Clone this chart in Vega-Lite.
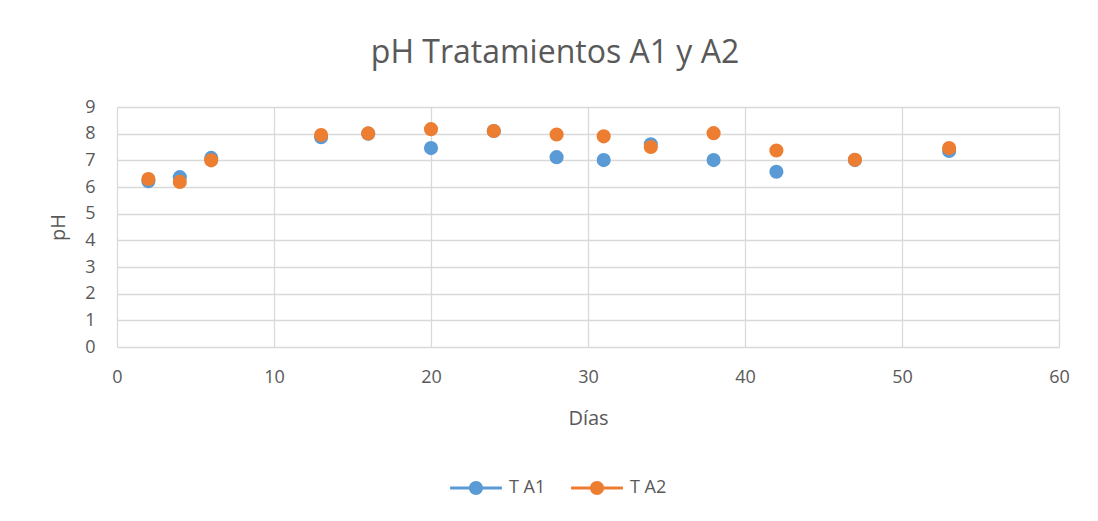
{
  "$schema": "https://vega.github.io/schema/vega-lite/v6.json",
  "autosize": "none",
  "width": 942,
  "height": 240,
  "padding": {"left": 117, "top": 107, "right": 39, "bottom": 174},
  "background": "white",
  "title": {
    "text": "pH Tratamientos A1 y A2",
    "fontSize": 32,
    "font": "Open Sans",
    "fontWeight": "normal",
    "color": "#595959",
    "anchor": "middle",
    "frame": "group",
    "dx": -33,
    "offset": 28
  },
  "config": {
    "font": "Open Sans",
    "view": {"stroke": null},
    "axis": {
      "grid": true,
      "gridColor": "#d9d9d9",
      "gridWidth": 1.3,
      "domain": false,
      "ticks": false,
      "labelFontSize": 18,
      "labelColor": "#595959",
      "titleFontSize": 20,
      "titleColor": "#595959",
      "titleFontWeight": "normal"
    }
  },
  "data": {
    "values": [
      {"dia": 2, "serie": "T A1", "ph": 6.22},
      {"dia": 4, "serie": "T A1", "ph": 6.37},
      {"dia": 6, "serie": "T A1", "ph": 7.09},
      {"dia": 13, "serie": "T A1", "ph": 7.87},
      {"dia": 16, "serie": "T A1", "ph": 8.0},
      {"dia": 20, "serie": "T A1", "ph": 7.46},
      {"dia": 24, "serie": "T A1", "ph": 8.1},
      {"dia": 28, "serie": "T A1", "ph": 7.12},
      {"dia": 31, "serie": "T A1", "ph": 7.01},
      {"dia": 34, "serie": "T A1", "ph": 7.6},
      {"dia": 38, "serie": "T A1", "ph": 7.01},
      {"dia": 42, "serie": "T A1", "ph": 6.57},
      {"dia": 47, "serie": "T A1", "ph": 7.01},
      {"dia": 53, "serie": "T A1", "ph": 7.35},
      {"dia": 2, "serie": "T A2", "ph": 6.3},
      {"dia": 4, "serie": "T A2", "ph": 6.19},
      {"dia": 6, "serie": "T A2", "ph": 7.0},
      {"dia": 13, "serie": "T A2", "ph": 7.95},
      {"dia": 16, "serie": "T A2", "ph": 8.01},
      {"dia": 20, "serie": "T A2", "ph": 8.17},
      {"dia": 24, "serie": "T A2", "ph": 8.1},
      {"dia": 28, "serie": "T A2", "ph": 7.97},
      {"dia": 31, "serie": "T A2", "ph": 7.9},
      {"dia": 34, "serie": "T A2", "ph": 7.5},
      {"dia": 38, "serie": "T A2", "ph": 8.02},
      {"dia": 42, "serie": "T A2", "ph": 7.37},
      {"dia": 47, "serie": "T A2", "ph": 7.02},
      {"dia": 53, "serie": "T A2", "ph": 7.46}
    ]
  },
  "mark": {"type": "point", "filled": true, "opacity": 1, "size": 200},
  "encoding": {
    "x": {
      "field": "dia",
      "type": "quantitative",
      "scale": {"domain": [0, 60], "nice": false},
      "axis": {"values": [0, 10, 20, 30, 40, 50, 60], "title": "Días", "labelFlush": false, "labelPadding": 21, "titlePadding": 22}
    },
    "y": {
      "field": "ph",
      "type": "quantitative",
      "scale": {"domain": [0, 9], "nice": false},
      "axis": {"values": [0, 1, 2, 3, 4, 5, 6, 7, 8, 9], "title": "pH", "labelPadding": 22, "titlePadding": 16}
    },
    "color": {
      "field": "serie",
      "type": "nominal",
      "scale": {"domain": ["T A1", "T A2"], "range": ["#5b9bd5", "#ed7d31"]},
      "legend": {
        "title": null,
        "orient": "none",
        "direction": "horizontal",
        "legendX": 350,
        "legendY": 372,
        "symbolType": "M-3.7,-0.2H3.7V0.2H-3.7Z M-1,0A1,1,0,1,1,1,0A1,1,0,1,1,-1,0Z",
        "symbolSize": 196,
        "symbolOpacity": 1,
        "labelFontSize": 18,
        "labelColor": "#595959",
        "labelOffset": 24,
        "columnPadding": 25
      }
    }
  }
}
